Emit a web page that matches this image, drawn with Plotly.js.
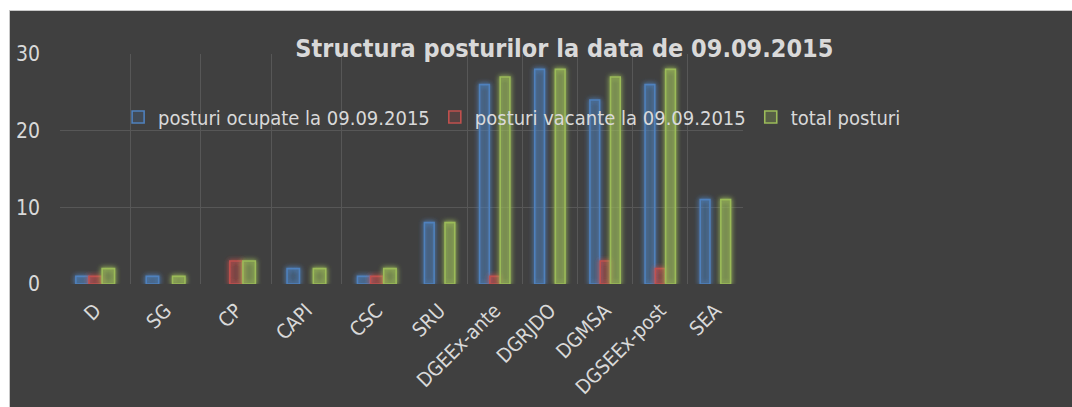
<!DOCTYPE html>
<html>
<head>
<meta charset="utf-8">
<script src="https://cdn.plot.ly/plotly-3.0.1.min.js"></script>
<style>
  html, body { margin: 0; padding: 0; background: #ffffff; width: 1072px; height: 407px; overflow: hidden; }
  #chart { position: absolute; left: 9px; top: 10px; width: 1062px; height: 396px;
           border-left: 1px solid #c8c8c8; border-top: 1px solid #c8c8c8; background: #404040; }
</style>
</head>
<body>
<svg width="0" height="0" style="position:absolute">
  <defs>
    <filter id="barglow" x="-150%" y="-150%" width="400%" height="400%">
      <feGaussianBlur in="SourceGraphic" stdDeviation="2.6" result="blur"/>
      <feComponentTransfer in="blur" result="glow">
        <feFuncA type="linear" slope="1.6"/>
      </feComponentTransfer>
      <feMerge>
        <feMergeNode in="glow"/>
        <feMergeNode in="SourceGraphic"/>
      </feMerge>
    </filter>
  </defs>
</svg>
<div id="chart"></div>
<script>
// ---- data ----
var categories = ["D", "SG", "CP", "CAPI", "CSC", "SRU", "DGEEx-ante", "DGRJDO", "DGMSA", "DGSEEx-post", "SEA"];
var ocupate   = [1, 1, 0, 2, 1, 8, 26, 28, 24, 26, 11];
var vacante   = [1, 0, 3, 0, 1, 0, 1, 0, 3, 2, 0];
var total     = [2, 1, 3, 2, 2, 8, 27, 28, 27, 28, 11];
var seriesNames = ["posturi ocupate la 09.09.2015", "posturi vacante la 09.09.2015", "total posturi"];
var yTicks = [0, 10, 20, 30];
var titleText = "Structura posturilor la data de 09.09.2015";

// ---- styling ----
var lineColors = ["#4f81bd", "#c0504d", "#9bbb59"];
var fillColors = ["rgba(79,129,189,0.18)", "rgba(192,80,77,0.18)", "rgba(155,187,89,0.26)"];
var textColor = "#d9d9d9";
var gridColor = "#575757";
var fontFam = "'DejaVu Sans Condensed', 'DejaVu Sans', sans-serif";
var splitAt = 5;

var allSeries = [ocupate, vacante, total];
var traces = [];
[["x", 0, splitAt], ["x2", splitAt, categories.length]].forEach(function (part, pi) {
  allSeries.forEach(function (vals, si) {
    traces.push({
      type: "bar",
      name: seriesNames[si],
      x: categories.slice(part[1], part[2]),
      // zero values are not drawn (no empty outline)
      y: vals.slice(part[1], part[2]).map(function (v) { return v === 0 ? null : v; }),
      xaxis: part[0],
      yaxis: "y",
      showlegend: pi === 0,
      legendgroup: "s" + si,
      marker: { color: fillColors[si], line: { color: lineColors[si], width: 1.6 } },
      hoverinfo: "x+y+name"
    });
  });
});

var xaxisCommon = {
  type: "category",
  tickson: "boundaries",
  showgrid: true,
  gridcolor: gridColor,
  gridwidth: 1,
  showline: false,
  zeroline: false,
  ticks: "",
  tickangle: -45,
  ticklabelstandoff: 10,
  tickfont: { family: fontFam, size: 20, color: textColor },
  fixedrange: true
};

var layout = {
  width: 1062,
  height: 396,
  paper_bgcolor: "#404040",
  plot_bgcolor: "#404040",
  margin: { l: 50, r: 10, t: 43, b: 123, pad: 0 },
  barmode: "group",
  bargap: 0.44,
  bargroupgap: 0.06,
  title: {
    text: "<b>" + titleText + "</b>",
    x: 0.522, xanchor: "center",
    y: 0.905, yanchor: "middle",
    font: { family: fontFam, size: 25, color: textColor }
  },
  xaxis: Object.assign({ domain: [0, 0.3513], anchor: "y" }, xaxisCommon),
  xaxis2: Object.assign({ domain: [0.3513, 0.6816], anchor: "y" }, xaxisCommon),
  yaxis: {
    range: [0, 30],
    tickvals: yTicks,
    showgrid: true,
    gridcolor: gridColor,
    gridwidth: 1,
    zeroline: false,
    showline: false,
    ticks: "",
    ticklabelstandoff: 19,
    tickfont: { family: fontFam, size: 21, color: textColor },
    fixedrange: true
  },
  legend: {
    orientation: "h",
    x: 0.058, xanchor: "left",
    y: 0.726, yanchor: "middle",
    bgcolor: "rgba(0,0,0,0)",
    font: { family: fontFam, size: 20, color: textColor },
    traceorder: "normal",
    itemclick: false,
    itemdoubleclick: false
  },
  showlegend: true
};

Plotly.newPlot("chart", traces, layout, { displayModeBar: false }).then(function (gd) {
  gd.querySelectorAll(".barlayer .trace path").forEach(function (p) {
    p.setAttribute("filter", "url(#barglow)");
  });
});
</script>
</body>
</html>
